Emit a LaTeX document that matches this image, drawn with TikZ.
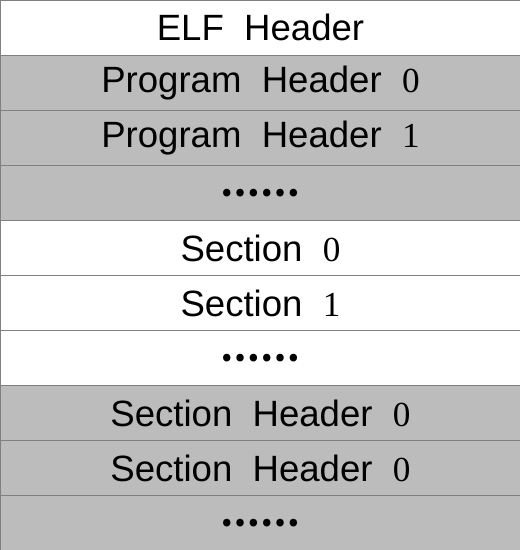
\documentclass[tikz,border=0pt]{standalone}
\usepackage{fontspec}
\setmainfont{Liberation Sans}
\newfontfamily\numfont{Liberation Serif}
\newfontfamily\cjk{Noto Sans CJK SC}
\usetikzlibrary{shapes,calc}

\newcommand{\num}[1]{{\numfont\fontsize{25}{28}\selectfont #1}}
\newcommand{\more}{{\cjk\bfseries\fontsize{25}{30}\selectfont ……}}

\begin{document}
\begin{tikzpicture}[
		row/.style={rectangle, draw=gray, line width=0.8pt, fill=white,
			minimum width=13cm, minimum height=1.375cm, inner sep=0pt,
			font=\fontsize{26}{30}\selectfont},
		shaded/.style={row, fill=lightgray!95!gray}]
		\useasboundingbox (-0.01, 0.01) rectangle (12.985, -13.735);
		\path (6.5, -0.6875) node[row] (elf) {ELF~~Header}
  		(6.5, -2.0625) node[shaded] (ph0) {Program~~Header~~\num{0}}
  		(6.5, -3.4375) node[shaded] (ph1) {Program~~Header~~\num{1}}
  		(6.5, -4.8125) node[shaded] (phx) {\more}
  		(6.5, -6.1875) node[row] (s0) {Section~~\num{0}}
  		(6.5, -7.5625) node[row] (s1) {Section~~\num{1}}
  		(6.5, -8.9375) node[row] (sx) {\more}
  		(6.5, -10.3125) node[shaded] (sh0) {Section~~Header~~\num{0}}
  		(6.5, -11.6875) node[shaded] (sh1) {Section~~Header~~\num{0}}
  		(6.5, -13.0625) node[shaded] (shx) {\more};
	\end{tikzpicture}
\end{document}
